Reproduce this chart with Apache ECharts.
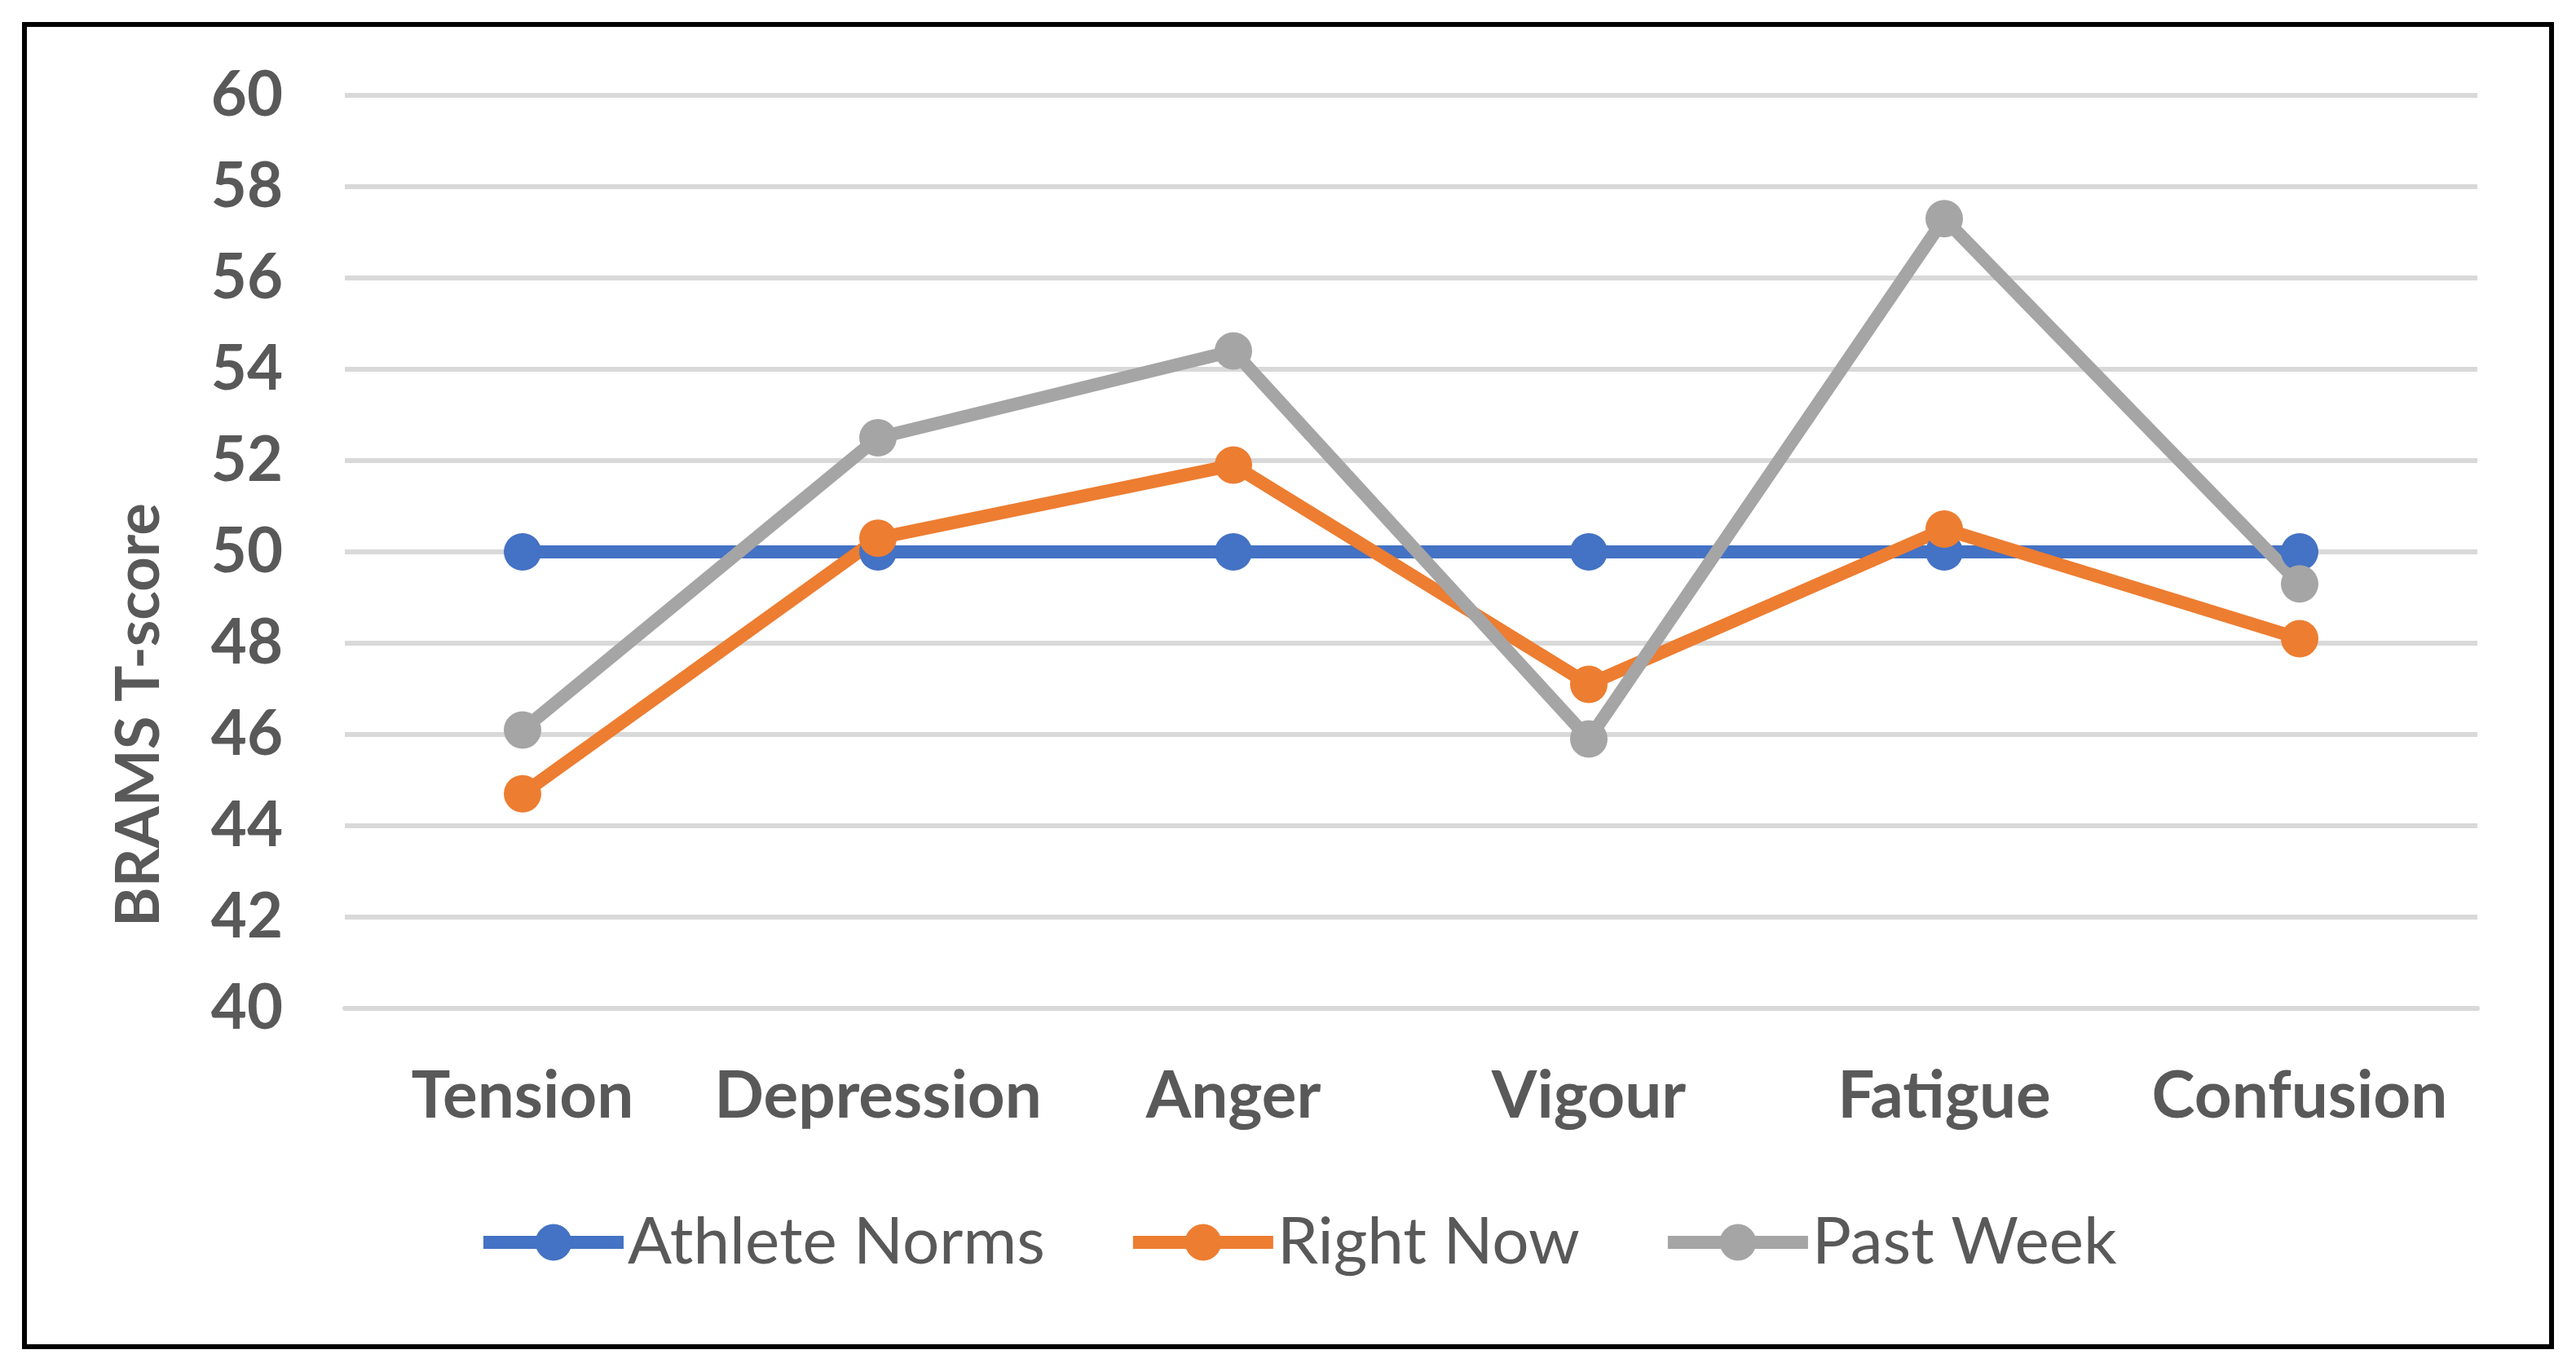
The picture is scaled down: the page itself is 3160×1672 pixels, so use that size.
<!DOCTYPE html>
<html>
<head>
<meta charset="utf-8">
<script src="https://cdn.jsdelivr.net/npm/echarts@6/dist/echarts.min.js"></script>
<style>
html,body{margin:0;padding:0;background:#fff;}
#c{width:3160px;height:1672px;}
</style>
</head>
<body>
<div id="c"></div>
<script>
const categories = ['Tension', 'Depression', 'Anger', 'Vigour', 'Fatigue', 'Confusion'];
const athleteNorms = [50, 50, 50, 50, 50, 50];
const rightNow = [44.7, 50.3, 51.9, 47.1, 50.5, 48.1];
const pastWeek = [46.1, 52.5, 54.4, 45.9, 57.3, 49.3];
const yTicks = {min: 40, max: 60, interval: 2};
const yTitle = 'BRAMS T-score';

const FONT = 'Lato';
const TXT = '#595959';

const chart = echarts.init(document.getElementById('c'), null, {renderer: 'canvas'});

function lineSeries(name, data, color) {
  return {
    name: name,
    type: 'line',
    data: data,
    symbol: 'circle',
    symbolSize: 46,
    lineStyle: {color: color, width: 16},
    itemStyle: {color: color},
    emphasis: {disabled: true},
    animation: false
  };
}

chart.setOption({
  animation: false,
  backgroundColor: '#fff',
  graphic: [{
    type: 'rect',
    shape: {x: 30, y: 30, width: 3100, height: 1622},
    style: {fill: 'none', stroke: '#000', lineWidth: 6},
    silent: true,
    z: 100
  }, {
    type: 'text',
    x: 171,
    y: 877,
    rotation: Math.PI / 2,
    style: {
      text: yTitle,
      fontFamily: FONT,
      fontSize: 74,
      fontWeight: 'bold',
      fill: TXT,
      align: 'center',
      verticalAlign: 'middle'
    },
    silent: true
  }],
  grid: {left: 423, right: 121, top: 117, bottom: 435, containLabel: false},
  legend: {
    left: 580,
    top: 1479,
    itemWidth: 172,
    itemHeight: 56,
    itemGap: 100,
    lineStyle: {width: 16},
    textStyle: {fontFamily: FONT, fontSize: 80, color: TXT},
    data: ['Athlete Norms', 'Right Now', 'Past Week']
  },
  xAxis: {
    type: 'category',
    data: categories,
    boundaryGap: true,
    axisLine: {show: true, lineStyle: {color: '#D9D9D9', width: 6}},
    axisTick: {show: false},
    axisLabel: {
      interval: 0,
      fontFamily: FONT, fontSize: 80, fontWeight: 'bold', color: TXT, margin: 68
    }
  },
  yAxis: {
    type: 'value',
    min: yTicks.min,
    max: yTicks.max,
    interval: yTicks.interval,
    axisLine: {show: false},
    axisTick: {show: false},
    axisLabel: {fontFamily: FONT, fontSize: 76, fontWeight: 'bold', color: TXT, margin: 76},
    splitLine: {lineStyle: {color: '#D9D9D9', width: 6}}
  },
  series: [
    lineSeries('Athlete Norms', athleteNorms, '#4472C4'),
    lineSeries('Right Now', rightNow, '#ED7D31'),
    lineSeries('Past Week', pastWeek, '#A5A5A5')
  ]
});
</script>
</body>
</html>
